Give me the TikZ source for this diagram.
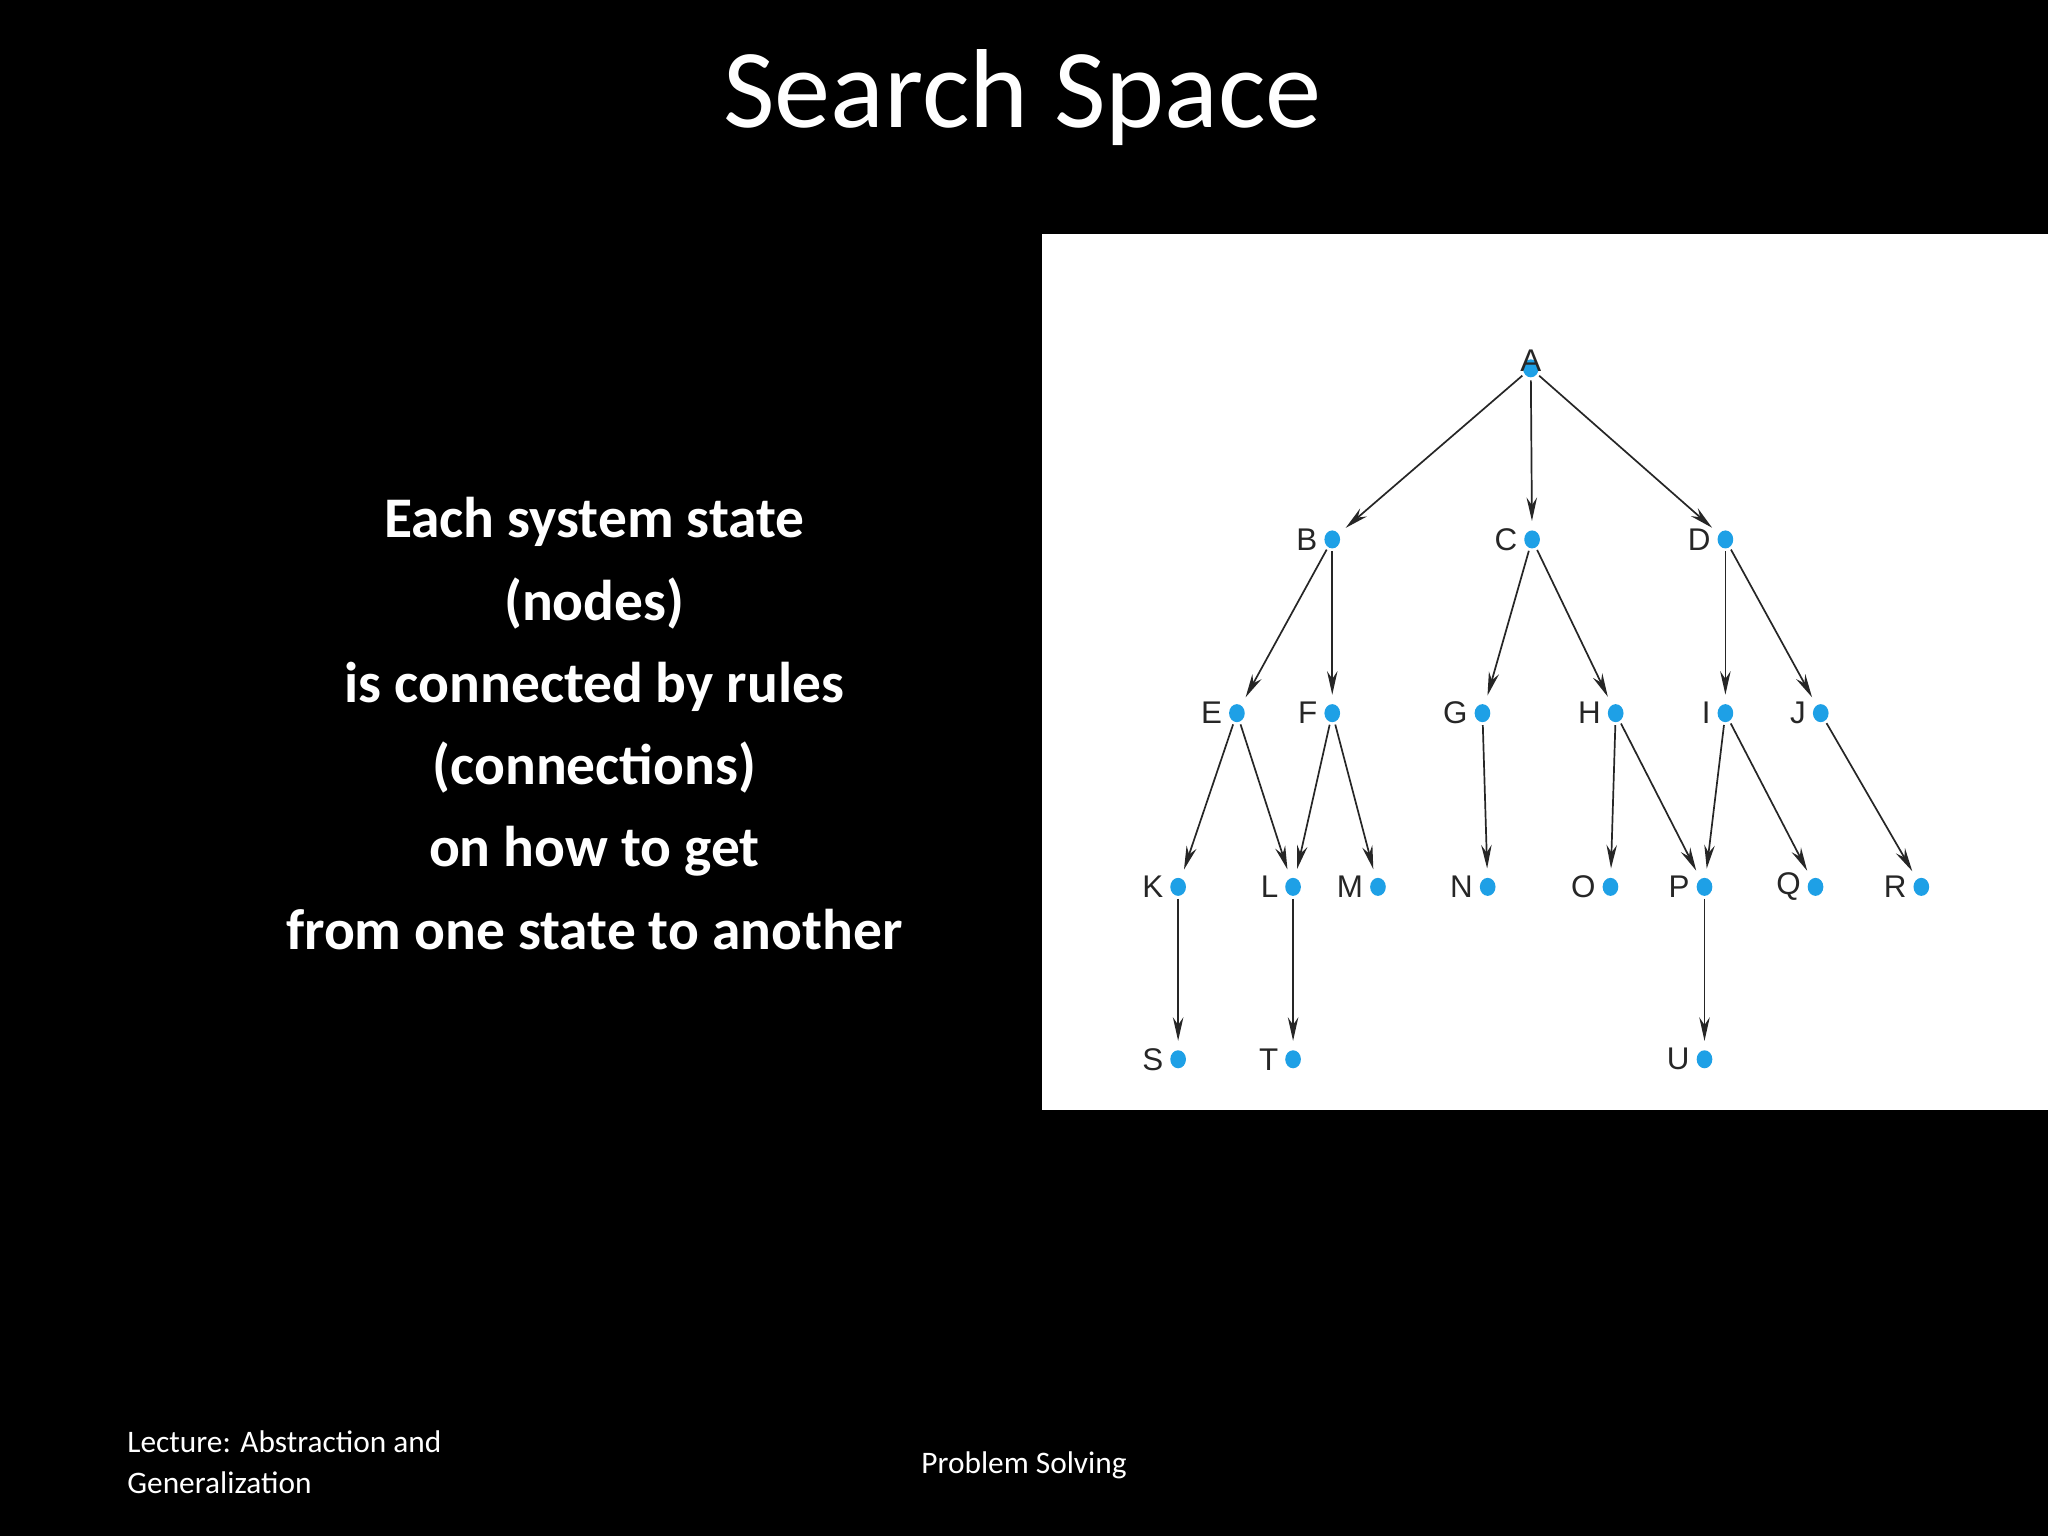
\documentclass[tikz,border=0pt]{standalone}
\usepackage{fontspec}
\setmainfont{Carlito}
\newfontfamily\treefont{Liberation Sans}
\usetikzlibrary{arrows.meta}
\definecolor{dotc}{HTML}{1EA0E6}
\begin{document}
\begin{tikzpicture}[x=1pt,y=-1pt,
  st/.style={circle,fill=dotc,minimum width=12pt,minimum height=12pt,inner sep=0pt,yscale=1.15},
  lab/.style={font=\treefont\fontsize{24}{24}\selectfont,text=black!85,inner sep=0pt},
  edge/.style={-{Stealth[length=18pt,width=8pt]},line width=1.3pt,draw=black!85,shorten >=7pt,shorten <=2pt},
  body/.style={text=white,font=\bfseries\fontsize{44}{63}\selectfont,align=center}]
\fill[black] (0,0) rectangle (1568,1176);
\useasboundingbox (0,0) rectangle (1568,1176);
\fill[white] (798,179) rectangle (1568,850);
\node[text=white,font=\fontsize{86}{86}\selectfont] (title) at (783,75) {Search Space};
\node[body] (txt) at (455,554) {Each system state\\(nodes)\\is connected by rules\\(connections)\\on how to get\\from one state to another};
\node[text=white,font=\fontsize{24}{31}\selectfont,align=left,anchor=north west] (f1) at (94,1092) {Lecture: Abstraction and\\Generalization};
\node[text=white,font=\fontsize{24}{24}\selectfont] (f2) at (784,1122) {Problem Solving};
\foreach \n/\x/\y in {A/1172/282,B/1020/413,C/1173/413,D/1321/413,E/947/546,F/1020/546,G/1135/546,H/1237/546,I/1321/546,J/1394/546,K/902/679,L/990/679,M/1055/679,N/1139/679,O/1233/679,P/1305/679,Q/1390/679,R/1471/679,S/902/811,T/990/811,U/1305/811}{
  \node[st] (\n) at (\x,\y) {};
}
\node[lab,anchor=south] (lA) at ([yshift=-10pt]A.north) {A};
\foreach \n in {B,C,D,E,F,G,H,I,J,K,L,M,N,O,P,Q,R,S,T,U}{
  \node[lab,anchor=east] (l\n) at ([xshift=-5pt]\n.west) {\n};
}
\foreach \a/\b in {A/B,A/C,A/D,B/E,B/F,C/G,C/H,D/I,D/J,E/K,E/L,F/L,F/M,G/N,H/O,H/P,I/P,I/Q,J/R,K/S,L/T,P/U}{
  \draw[edge] (\a) -- (\b);
}
\end{tikzpicture}
\end{document}
